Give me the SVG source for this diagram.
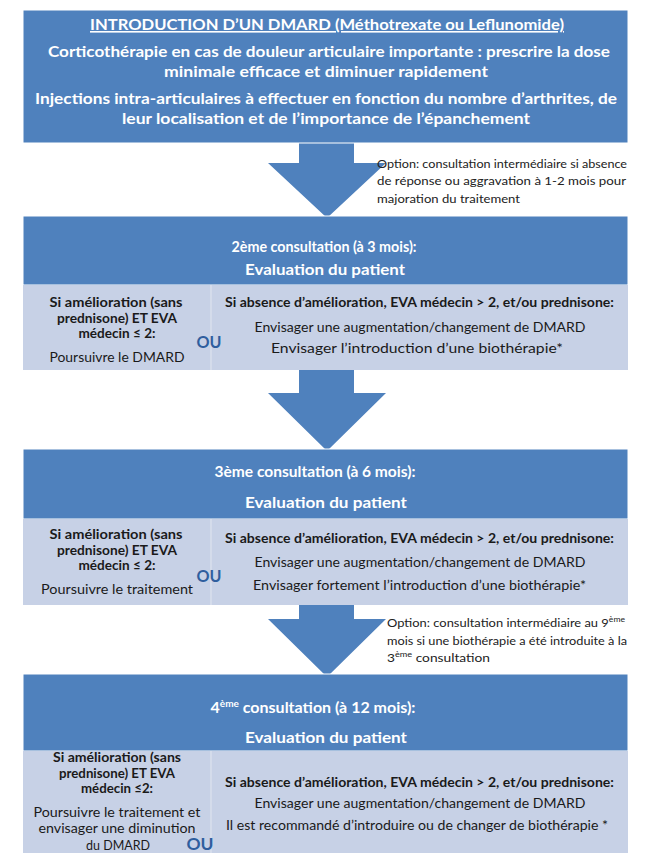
<svg xmlns="http://www.w3.org/2000/svg" width="645" height="861" viewBox="0 0 645 861">
<style>
text{font-family:Lato,"Liberation Sans",sans-serif;}
.hd{fill:#4F81BD;stroke:#ffffff;stroke-width:1;}
.lt{fill:#C7D1E6;}
.dv{stroke:#E1E6F0;stroke-width:1;}
.w{fill:#ffffff;font-weight:bold;font-size:16px;text-anchor:middle;}
.b{fill:#1a1a1a;font-weight:bold;font-size:14px;text-anchor:middle;}
.bl{fill:#1a1a1a;font-weight:bold;font-size:13px;text-anchor:middle;}
.n{fill:#1a1a1a;font-size:14px;text-anchor:middle;}
.ou{fill:#2F5E9E;font-weight:bold;font-size:17px;text-anchor:middle;}
.op{fill:#222222;font-size:12px;}
.arr{fill:#4F81BD;}
</style>
<g id="connectors">
<polygon class="arr" points="299,143 354,143 354,163 386,163 327,218 268,163 299,163"/>
<polygon class="arr" points="299,370 354,370 354,393 386,393 327,451 268,393 299,393"/>
<polygon class="arr" points="299,605 354,605 354,619 386,619 327,677 268,619 299,619"/>
</g>
<g id="box1">
<rect class="hd" x="23" y="10" width="605" height="133"/>
<text class="w" x="327" y="30" textLength="474" lengthAdjust="spacingAndGlyphs" text-decoration="underline" font-size="15">INTRODUCTION D’UN DMARD (Méthotrexate ou Leflunomide)</text>
<text class="w" x="329" y="57" textLength="562" lengthAdjust="spacingAndGlyphs">Corticothérapie en cas de douleur articulaire importante : prescrire la dose</text>
<text class="w" x="326" y="77" textLength="324" lengthAdjust="spacingAndGlyphs">minimale efficace et diminuer rapidement</text>
<text class="w" x="326" y="104" textLength="582" lengthAdjust="spacingAndGlyphs">Injections intra-articulaires à effectuer en fonction du nombre d’arthrites, de</text>
<text class="w" x="326" y="124" textLength="408" lengthAdjust="spacingAndGlyphs">leur localisation et de l’importance de l’épanchement</text>
</g>
<g id="option1">
<text class="op" x="377" y="168" textLength="250" lengthAdjust="spacingAndGlyphs">Option: consultation intermédiaire si absence</text>
<text class="op" x="377" y="185" textLength="249" lengthAdjust="spacingAndGlyphs">de réponse ou aggravation à 1-2 mois pour</text>
<text class="op" x="377" y="203" textLength="143" lengthAdjust="spacingAndGlyphs">majoration du traitement</text>
</g>
<g id="box2">
<rect class="hd" x="23" y="216" width="605" height="69"/>
<rect class="lt" x="23" y="285" width="605" height="85"/>
<line class="dv" x1="211" y1="285" x2="211" y2="370"/>
<text class="w" x="324" y="252" textLength="185" lengthAdjust="spacingAndGlyphs">2ème consultation (à 3 mois):</text>
<text class="w" x="325" y="275" textLength="160" lengthAdjust="spacingAndGlyphs">Evaluation du patient</text>
<text class="bl" x="116" y="307" textLength="133" lengthAdjust="spacingAndGlyphs">Si amélioration (sans</text>
<text class="bl" x="117" y="323" textLength="120" lengthAdjust="spacingAndGlyphs">prednisone) ET EVA</text>
<text class="bl" x="117" y="338" textLength="77" lengthAdjust="spacingAndGlyphs">médecin ≤ 2:</text>
<text class="n" x="117" y="362" textLength="135" lengthAdjust="spacingAndGlyphs">Poursuivre le DMARD</text>
<text class="ou" x="209" y="348" textLength="25" lengthAdjust="spacingAndGlyphs">OU</text>
<text class="b" x="419.5" y="307" textLength="389" lengthAdjust="spacingAndGlyphs">Si absence d’amélioration, EVA médecin &gt; 2, et/ou prednisone:</text>
<text class="n" x="420" y="332" textLength="331" lengthAdjust="spacingAndGlyphs">Envisager une augmentation/changement de DMARD</text>
<text class="n" x="417" y="353" textLength="292" lengthAdjust="spacingAndGlyphs">Envisager l’introduction d’une biothérapie*</text>
</g>
<g id="box3">
<rect class="hd" x="23" y="449" width="605" height="70"/>
<rect class="lt" x="23" y="519" width="605" height="86"/>
<line class="dv" x1="211" y1="519" x2="211" y2="605"/>
<text class="w" x="315" y="477" textLength="201" lengthAdjust="spacingAndGlyphs">3ème consultation (à 6 mois):</text>
<text class="w" x="326" y="508" textLength="162" lengthAdjust="spacingAndGlyphs">Evaluation du patient</text>
<text class="bl" x="116" y="539" textLength="133" lengthAdjust="spacingAndGlyphs">Si amélioration (sans</text>
<text class="bl" x="117" y="555" textLength="120" lengthAdjust="spacingAndGlyphs">prednisone) ET EVA</text>
<text class="bl" x="117" y="570" textLength="77" lengthAdjust="spacingAndGlyphs">médecin ≤ 2:</text>
<text class="n" x="117" y="594" textLength="152" lengthAdjust="spacingAndGlyphs">Poursuivre le traitement</text>
<text class="ou" x="209" y="582" textLength="25" lengthAdjust="spacingAndGlyphs">OU</text>
<text class="b" x="419.5" y="543" textLength="389" lengthAdjust="spacingAndGlyphs">Si absence d’amélioration, EVA médecin &gt; 2, et/ou prednisone:</text>
<text class="n" x="420" y="567" textLength="331" lengthAdjust="spacingAndGlyphs">Envisager une augmentation/changement de DMARD</text>
<text class="n" x="419.5" y="590" textLength="333" lengthAdjust="spacingAndGlyphs">Envisager fortement l’introduction d’une biothérapie*</text>
</g>
<g id="option2">
<text class="op" x="387" y="627" textLength="238" lengthAdjust="spacingAndGlyphs">Option: consultation intermédiaire au 9<tspan font-size="8" dy="-5">ème</tspan></text>
<text class="op" x="387" y="645" textLength="240" lengthAdjust="spacingAndGlyphs">mois si une biothérapie a été introduite à la</text>
<text class="op" x="387" y="662" textLength="103" lengthAdjust="spacingAndGlyphs">3<tspan font-size="8" dy="-5">ème</tspan><tspan dy="5"> consultation</tspan></text>
</g>
<g id="box4">
<rect class="hd" x="23" y="674" width="605" height="77"/>
<rect class="lt" x="23" y="751" width="605" height="102"/>
<line class="dv" x1="211" y1="751" x2="211" y2="853"/>
<text class="w" x="313" y="713" textLength="205" lengthAdjust="spacingAndGlyphs">4<tspan font-size="10" dy="-6">ème</tspan><tspan dy="6"> consultation (à 12 mois):</tspan></text>
<text class="w" x="326" y="743" textLength="162" lengthAdjust="spacingAndGlyphs">Evaluation du patient</text>
<text class="bl" x="117" y="762" textLength="128" lengthAdjust="spacingAndGlyphs">Si amélioration (sans</text>
<text class="bl" x="117" y="778" textLength="116" lengthAdjust="spacingAndGlyphs">prednisone) ET EVA</text>
<text class="bl" x="117" y="793" textLength="72" lengthAdjust="spacingAndGlyphs">médecin ≤2:</text>
<text class="n" x="117" y="817" textLength="167" lengthAdjust="spacingAndGlyphs">Poursuivre le traitement et</text>
<text class="n" x="117" y="833" textLength="157" lengthAdjust="spacingAndGlyphs">envisager une diminution</text>
<text class="n" x="118" y="850" textLength="64" lengthAdjust="spacingAndGlyphs">du DMARD</text>
<text class="ou" x="200" y="850" textLength="27" lengthAdjust="spacingAndGlyphs">OU</text>
<text class="b" x="419.5" y="787" textLength="389" lengthAdjust="spacingAndGlyphs">Si absence d’amélioration, EVA médecin &gt; 2, et/ou prednisone:</text>
<text class="n" x="420" y="808" textLength="331" lengthAdjust="spacingAndGlyphs">Envisager une augmentation/changement de DMARD</text>
<text class="n" x="417" y="830" textLength="382" lengthAdjust="spacingAndGlyphs">Il est recommandé d’introduire ou de changer de biothérapie *</text>
</g>
</svg>
